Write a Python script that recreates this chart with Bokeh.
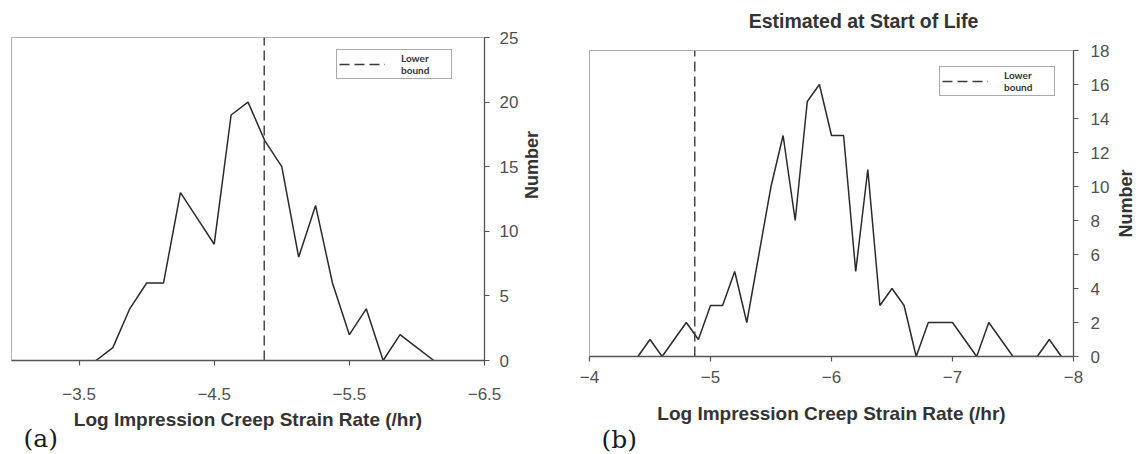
import math
from bokeh.plotting import figure
from bokeh.layouts import row
from bokeh.models import Range1d, FixedTicker, Title, Label
from bokeh.embed import file_html
from bokeh.resources import INLINE

# ---------------- data ----------------
# (a) distribution
a_rate = [-3.625, -3.75, -3.875, -4.0, -4.125, -4.25, -4.375, -4.5, -4.625, -4.75,
          -4.875, -5.0, -5.125, -5.25, -5.375, -5.5, -5.625, -5.75, -5.875, -6.0, -6.125]
a_count = [0, 1, 4, 6, 6, 13, 11, 9, 19, 20, 17, 15, 8, 12, 6, 2, 4, 0, 2, 1, 0]
a_lower_bound = -4.87
a_xrange = (-3.0, -6.5)
a_yrange = (0, 25)
a_xticks = [-3.5, -4.5, -5.5, -6.5]
a_yticks = [0, 5, 10, 15, 20, 25]

# (b) distribution, estimated at start of life
b_rate = [-4.4, -4.5, -4.6, -4.7, -4.8, -4.9, -5.0, -5.1, -5.2, -5.3, -5.4, -5.5,
          -5.6, -5.7, -5.8, -5.9, -6.0, -6.1, -6.2, -6.3, -6.4, -6.5, -6.6, -6.7,
          -6.8, -6.9, -7.0, -7.1, -7.2, -7.3, -7.4, -7.5, -7.6, -7.7, -7.8, -7.9]
b_count = [0, 1, 0, 1, 2, 1, 3, 3, 5, 2, 6, 10, 13, 8, 15, 16, 13, 13, 5, 11, 3, 4, 3, 0,
           2, 2, 2, 1, 0, 2, 1, 0, 0, 0, 1, 0]
b_lower_bound = -4.87
b_xrange = (-4.0, -8.0)
b_yrange = (0, 18)
b_xticks = [-4, -5, -6, -7, -8]
b_yticks = [0, 2, 4, 6, 8, 10, 12, 14, 16, 18]

x_title = "Log Impression Creep Strain Rate (/hr)"
y_title = "Number"
b_title = "Estimated at Start of Life"
legend_text = "Lower\nbound"

FONT = "Liberation Sans"


def make_panel(rate, count, lb, xr, yr, xticks, yticks, width, height, borders,
               panel_tag, tag_standoff, legend_pos, x_label_standoff, x_axis_label_standoff,
               y_label_standoff, y_axis_label_standoff, side_label=None, title=None):
    p = figure(width=width, height=height, output_backend="svg", toolbar_location=None,
               x_range=Range1d(*xr), y_range=Range1d(*yr), y_axis_location="right",
               min_border_left=borders[0], min_border_right=borders[1],
               min_border_top=borders[2], min_border_bottom=borders[3])
    try:
        p.frame_align = False
    except Exception:
        pass
    p.background_fill_color = "white"
    p.border_fill_color = "white"
    p.outline_line_color = "#b0b0b0"
    p.outline_line_width = 1
    p.xgrid.visible = False
    p.ygrid.visible = False

    p.xaxis.ticker = FixedTicker(ticks=xticks)
    p.yaxis.ticker = FixedTicker(ticks=yticks)
    for ax in (p.xaxis, p.yaxis):
        ax.axis_line_color = "#555555"
        ax.axis_line_width = 1.3
        ax.major_tick_line_color = "#555555"
        ax.major_tick_line_width = 1.2
        ax.major_tick_in = 0
        ax.major_tick_out = 5
        ax.minor_tick_line_color = None
        ax.major_label_text_font = FONT
        ax.major_label_text_font_size = "17px"
        ax.major_label_text_color = "#505050"
        ax.axis_label_text_font = FONT
        ax.axis_label_text_font_style = "bold"
        ax.axis_label_text_color = "#333333"
    p.xaxis.axis_label = x_title
    p.xaxis.axis_label_text_font_size = "19px"
    p.xaxis.major_label_standoff = x_label_standoff
    p.xaxis.axis_label_standoff = x_axis_label_standoff
    p.yaxis.major_label_standoff = y_label_standoff
    if side_label is None:
        p.yaxis.axis_label = y_title
        p.yaxis.axis_label_text_font_size = "18px"
        p.yaxis.axis_label_standoff = y_axis_label_standoff
        try:
            p.yaxis[0].axis_label_orientation = math.pi / 2
        except Exception:
            pass
    else:
        p.add_layout(Label(x=side_label[0], y=side_label[1], x_units="screen",
                           y_units="screen", text=y_title, angle=90, angle_units="deg",
                           text_align="center", text_baseline="middle", text_font=FONT,
                           text_font_size="18px", text_font_style="bold",
                           text_color="#333333"), "right")

    p.line(rate, count, line_color="#2a2a2a", line_width=1.5)
    p.segment(x0=[lb], y0=[yr[0]], x1=[lb], y1=[yr[1]], line_color="#3a3a3a",
              line_width=1.4, line_dash="10 5", legend_label=legend_text)

    lg = p.legend[0]
    lg.location = legend_pos
    lg.padding = 2
    lg.spacing = 0
    lg.margin = 0
    lg.glyph_width = 46
    lg.glyph_height = 24
    lg.label_standoff = 16
    lg.label_width = 48
    lg.label_text_font = "Lato"
    lg.label_text_font_style = "bold"
    lg.label_text_font_size = "10px"
    lg.label_text_color = "#333333"
    lg.label_text_line_height = 1.2
    lg.border_line_color = "#555555"
    lg.border_line_width = 1
    lg.background_fill_color = "white"
    lg.background_fill_alpha = 1

    p.add_layout(Title(text=panel_tag, align="left", offset=12, standoff=tag_standoff,
                       vertical_align="middle",
                       text_font="DejaVu Serif", text_font_size="25px",
                       text_font_style="normal", text_color="#1a1a1a"), "below")

    if title is not None:
        p.add_layout(Label(x=title[1], y=title[2], x_units="screen", y_units="screen",
                           text=title[0], text_align="center", text_baseline="middle",
                           text_font=FONT, text_font_size="19.5px", text_font_style="bold",
                           text_color="#333333"), "above")
    return p


pa = make_panel(a_rate, a_count, a_lower_bound, a_xrange, a_yrange, a_xticks, a_yticks,
                565, 454, (11, 81, 37, 94), "(a)", -19, (325, 281), 22, 6, 10, 11)
pb = make_panel(b_rate, b_count, b_lower_bound, b_xrange, b_yrange, b_xticks, b_yticks,
                575, 454, (24, 67, 50, 98), "(b)", -5, (350, 260), 9, 17, 12, 5,
                side_label=(13, 153), title=(b_title, 274, 30))

layout = row(pa, pb)
open("out.html", "w").write(file_html(layout, INLINE))
